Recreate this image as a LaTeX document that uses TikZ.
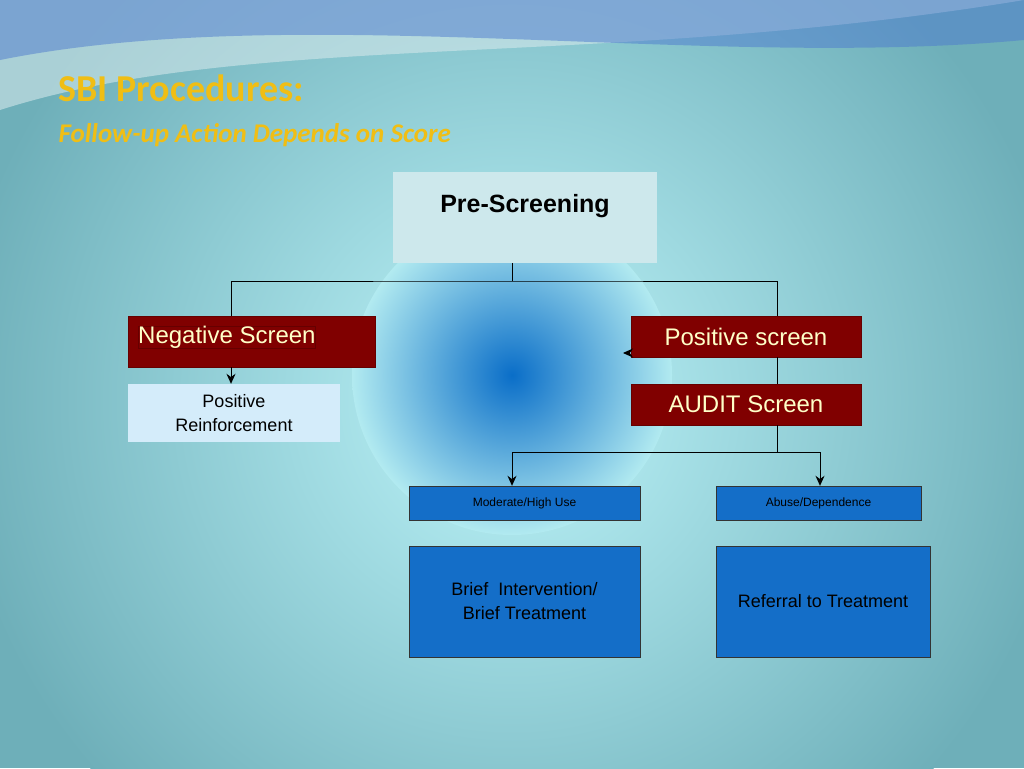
\documentclass[tikz,border=0pt]{standalone}
\usepackage{fontspec}
\setmainfont{Liberation Sans}
\newfontfamily\titlefont{Carlito}
\usetikzlibrary{arrows.meta,positioning}
\definecolor{bgteal}{RGB}{110,175,185}
\definecolor{glowblue}{RGB}{10,110,200}
\definecolor{glowcyan}{RGB}{190,245,250}
\definecolor{darkred}{RGB}{128,0,0}
\definecolor{cream}{RGB}{255,255,200}
\definecolor{boxblue}{RGB}{20,110,200}
\definecolor{palebox}{RGB}{205,232,236}
\definecolor{lightbox}{RGB}{212,236,250}
\definecolor{titlegold}{RGB}{240,190,20}
\begin{document}
\begin{tikzpicture} [
    x=1pt, y=-1pt,
    redbox/.style={rectangle, fill=darkred, draw=darkred!80!black, text=cream, font=\fontsize{24}{28}\selectfont, inner sep=0pt},
    bluebox/.style={rectangle, fill=boxblue, draw=black!80, text=black, inner sep=0pt, align=center},
    conn/.style={draw=black, line width=1pt},
    >={Stealth[length=10pt,width=9pt]}
    ]
    \useasboundingbox (0,0) rectangle (1024,768);
    %Background
    \begin{scope}
    \clip (0,0) rectangle (1024,768);
    \fill[bgteal] (0,0) rectangle (1024,768);
    \shade[inner color=glowcyan, outer color=bgteal] (512,400) circle (560);
    \shade[inner color=glowblue, outer color=glowcyan!85!bgteal] (512,375) circle (160);
    \fill[white!70!bgteal, opacity=.6] (0,110) .. controls (250,30) and (600,70) .. (1024,0) -- (0,0) -- cycle;
    \fill[bgteal!70!blue, opacity=.5] (0,0) -- (1024,0) -- (1024,40) .. controls (700,70) and (300,0) .. (0,60) -- cycle;
    \end{scope}
    %Title
    \node[anchor=west, text=titlegold, font=\titlefont\bfseries\fontsize{38}{42}\selectfont] (title) at (55,88) {SBI Procedures:};
    \node[anchor=west, text=titlegold, font=\titlefont\bfseries\itshape\fontsize{27}{30}\selectfont] (subtitle) at (55,135) {Follow-up Action Depends on Score};
    %Nodes
    \node[rectangle, fill=palebox, minimum width=264pt, minimum height=91pt, inner sep=0pt] (pre) at (525,217.5) {};
    \node[font=\bfseries\fontsize{25}{28}\selectfont] (pretext) at (525,206) {Pre-Screening};
    \node[redbox, minimum width=247pt, minimum height=51pt] (neg) at (251.5,341.5) {};
    \node[redbox, anchor=west] (negtext) at (138,337) {Negative Screen};
    \node[rectangle, fill=lightbox, minimum width=212pt, minimum height=58pt, align=center, font=\fontsize{18}{24}\selectfont] (reinf) at (234,413) {Positive\\Reinforcement};
    \node[redbox, minimum width=230pt, minimum height=41pt] (pos) at (746,336.5) {Positive screen};
    \node[redbox, minimum width=230pt, minimum height=41pt] (audit) at (746,404.5) {AUDIT Screen};
    \node[bluebox, minimum width=231pt, minimum height=34pt, font=\fontsize{12}{14}\selectfont] (mod) at (524.5,503) {Moderate/High Use};
    \node[bluebox, minimum width=205pt, minimum height=34pt, font=\fontsize{12}{14}\selectfont] (abuse) at (818.5,503) {Abuse/Dependence};
    \node[bluebox, minimum width=231pt, minimum height=111pt, font=\fontsize{18}{24}\selectfont] (brief) at (524.5,601.5) {Brief\ \ Intervention/\\Brief Treatment};
    \node[bluebox, minimum width=214pt, minimum height=111pt, font=\fontsize{18}{24}\selectfont] (refer) at (823,601.5) {Referral to Treatment};
    \coordinate (stray) at (623,353);
    \coordinate (split) at (512,281);
    \coordinate (fork) at (777,452);
    %Lines
    \draw[conn] (pre.south -| split) -- (split);
    \draw[conn] (neg.north -| 231,0) |- (split) -| (pos.north -| fork);
    \draw[conn, ->] (neg.south -| 231,0) -- (reinf.north -| 231,0);
    \draw[conn] (pos.south -| fork) -- (audit.north -| fork);
    \draw[conn] (audit.south -| fork) -- (fork);
    \draw[conn, ->] (fork) -| (mod.north -| 512,0);
    \draw[conn, ->] (fork) -| (abuse.north -| 820,0);
    \draw[conn, ->, shorten <=6pt] (pos.west |- stray) -- (stray);
\end{tikzpicture}
\end{document}
